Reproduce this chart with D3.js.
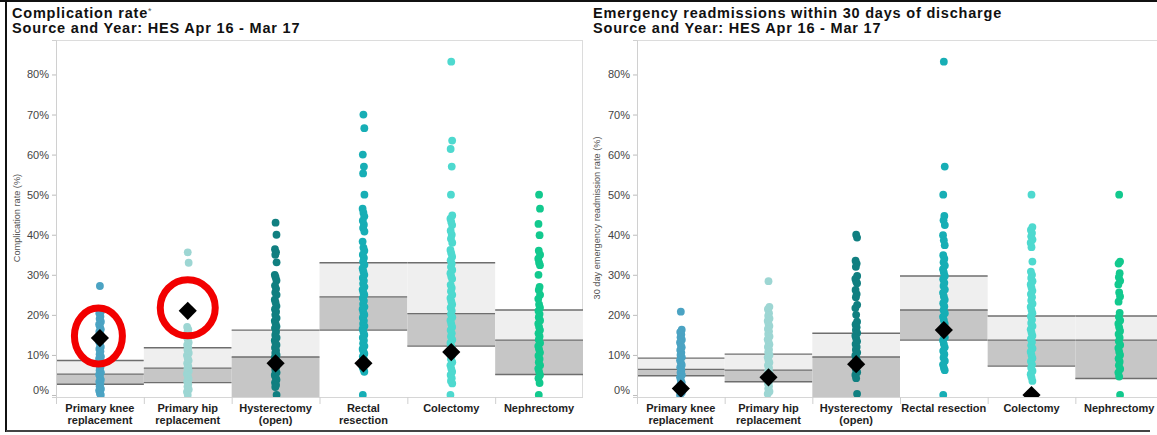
<!DOCTYPE html>
<html>
<head>
<meta charset="utf-8">
<script src="https://cdn.jsdelivr.net/npm/d3@7"></script>
<style>
  body { margin: 0; background: #fff; }
  svg { display: block; font-family: "Liberation Sans", Arial, sans-serif; }
</style>
</head>
<body>
<svg id="chart" width="1157" height="435"></svg>
<script>
// ---- Procedures and axis ticks ----
const procedures = ["Primary knee replacement", "Primary hip replacement", "Hysterectomy (open)",
                    "Rectal resection", "Colectomy", "Nephrectomy"];
const labelsLeft = [["Primary knee", "replacement"], ["Primary hip", "replacement"], ["Hysterectomy", "(open)"],
                    ["Rectal", "resection"], ["Colectomy"], ["Nephrectomy"]];
const labelsRight = [["Primary knee", "replacement"], ["Primary hip", "replacement"], ["Hysterectomy", "(open)"],
                     ["Rectal resection"], ["Colectomy"], ["Nephrectomy"]];
const yTicks = [0, 10, 20, 30, 40, 50, 60, 70, 80];
const dotColors = ["#4ba3c3", "#9dd6d3", "#107f80", "#17aeb5", "#4ed9cf", "#12c98e"];

// ---- Complication rate (%) by trust, per procedure ----
const complicationKnee = [27.2, 20.8, 20.4, 19.6, 19.0, 18.3, 17.6, 17.1, 16.4, 15.8, 15.2, 14.7, 13.9, 13.3, 12.8,
  12.0, 11.5, 10.9, 10.2, 9.6, 9.1, 8.3, 8.0, 7.4, 6.9, 6.2, 5.6, 5.1, 4.5, 3.8, 3.3, 2.9, 2.2, 1.5, 1.1, 0.4, 0];
const complicationHip = [35.6, 33.0, 17.0, 16.4, 15.7, 15.1, 14.4, 13.9, 13.1, 12.5, 11.8, 11.3, 10.5, 9.9, 9.2,
  8.6, 7.9, 7.2, 6.6, 6.0, 5.3, 4.8, 4.0, 3.4, 2.7, 2.1, 1.4, 0.8, 0];
const complicationHyst = [43.0, 40.0, 36.4, 35.6, 35.0, 33.1, 30.0, 29.4, 28.6, 27.3, 26.5, 25.6, 25.0, 23.8, 23.1,
  22.2, 21.4, 20.8, 20.0, 19.2, 18.5, 17.9, 17.1, 16.7, 15.8, 15.0, 14.3, 13.6, 12.9, 12.5, 11.8, 11.1, 10.5,
  10.0, 9.4, 8.7, 8.0, 7.4, 6.9, 6.3, 5.6, 5.0, 4.4, 3.8, 3.1, 2.5, 2.0, 0];
const complicationRectal = [70.0, 66.6, 60.0, 57.0, 55.3, 50.0, 46.5, 45.5, 44.6, 43.5, 42.5, 41.7, 40.8, 38.3,
  36.8, 36.0, 35.0, 34.2, 33.3, 32.5, 31.6, 30.8, 30.0, 29.2, 28.5, 27.8, 27.0, 26.3, 25.6, 25.0, 24.2, 23.5,
  22.7, 22.0, 21.4, 20.6, 20.0, 19.3, 18.5, 17.8, 17.2, 16.5, 15.8, 15.0, 14.3, 13.6, 12.9, 12.2, 11.5, 10.9,
  10.3, 9.6, 8.9, 8.3, 7.7, 7.0, 6.4, 5.8, 0];
const complicationColectomy = [83.2, 63.5, 61.4, 57.0, 50.0, 44.8, 44.0, 43.2, 42.4, 41.0, 40.0, 39.0, 38.0, 36.2,
  35.4, 34.5, 33.6, 32.8, 32.0, 31.2, 30.4, 29.6, 29.0, 27.5, 26.7, 25.9, 25.0, 24.2, 23.4, 22.6, 21.8, 21.0,
  20.2, 19.4, 18.6, 17.8, 17.0, 16.2, 15.4, 14.6, 13.8, 13.0, 12.2, 11.4, 10.6, 9.8, 9.0, 8.2, 7.4, 6.6, 5.8,
  5.0, 4.2, 3.5, 2.9, 0];
const complicationNephrectomy = [50.0, 46.5, 42.7, 39.9, 36.0, 35.0, 34.0, 33.0, 32.4, 30.0, 27.0, 26.2, 25.0, 24.0,
  22.6, 21.8, 21.0, 20.2, 19.4, 18.6, 17.8, 17.0, 16.2, 15.4, 14.6, 13.8, 13.0, 12.2, 11.4, 10.6, 9.8, 9.0, 8.2,
  7.4, 6.6, 5.8, 5.0, 4.2, 3.0, 0];

// National rate (diamond) and band limits for complications
const complicationNational = [14.2, 21.0, 7.9, 7.9, 10.7, null];
const complicationBandLow  = [2.7, 3.1, -2, 16.2, 12.2, 5.1];
const complicationBandMid  = [5.2, 6.7, 9.5, 24.5, 20.3, 13.7];
const complicationBandHigh = [8.6, 11.8, 16.2, 33.0, 33.0, 21.2];

// ---- 30 day emergency readmission rate (%) by trust, per procedure ----
const readmissionKnee = [20.8, 16.3, 15.7, 15.1, 14.4, 13.8, 13.1, 12.5, 11.9, 11.2, 10.6, 10.0, 9.4, 8.7, 8.1,
  7.5, 6.9, 6.2, 5.6, 5.0, 4.4, 3.7, 3.1, 2.5, 1.9, 1.2, 0.6, 0];
const readmissionHip = [28.4, 22.0, 21.4, 20.4, 19.8, 19.1, 18.5, 17.8, 17.2, 16.5, 15.9, 15.2, 14.6, 13.9, 13.3,
  12.6, 12.0, 11.3, 10.7, 10.0, 9.4, 8.7, 8.1, 7.4, 6.8, 6.1, 5.5, 4.8, 4.2, 3.5, 2.9, 2.2, 1.6, 0.9, 0.3];
const readmissionHyst = [40.0, 39.3, 33.5, 32.8, 32.0, 29.7, 29.0, 28.3, 27.9, 26.2, 25.2, 24.4, 22.5, 21.7, 20.0,
  18.3, 17.6, 16.9, 16.2, 15.5, 14.8, 14.1, 13.4, 12.7, 12.0, 11.3, 10.6, 9.9, 9.2, 8.5, 7.8, 7.1, 6.4, 5.7,
  5.0, 4.2, 0.3];
const readmissionRectal = [83.2, 57.0, 50.0, 44.7, 43.6, 42.4, 39.9, 38.6, 37.4, 34.9, 34.0, 33.1, 32.3, 31.4, 30.6,
  29.7, 28.9, 28.0, 27.2, 26.3, 25.5, 24.6, 23.8, 22.9, 22.1, 21.2, 20.4, 19.5, 18.7, 17.8, 17.0, 16.1, 15.3,
  14.4, 13.6, 12.7, 11.9, 11.0, 10.2, 9.3, 8.5, 7.6, 6.8, 6.2, 0];
const readmissionColectomy = [50.0, 41.9, 41.2, 40.4, 39.6, 38.8, 38.0, 36.9, 33.3, 30.8, 30.0, 29.2, 28.4, 27.6,
  26.8, 26.0, 25.2, 24.4, 23.6, 22.8, 22.0, 21.2, 20.4, 19.6, 18.8, 18.0, 17.2, 16.4, 15.6, 14.8, 14.0, 13.2,
  12.4, 11.6, 10.8, 10.0, 9.2, 8.4, 7.6, 6.8, 6.0, 5.2, 4.4, 3.5];
const readmissionNephrectomy = [50.0, 33.3, 32.8, 30.4, 29.4, 28.5, 27.6, 25.6, 24.6, 23.3, 20.5, 19.5, 18.6, 17.8,
  16.9, 16.0, 15.2, 14.3, 13.4, 12.5, 11.7, 10.8, 10.0, 9.1, 8.3, 7.4, 6.5, 5.6, 4.6, 0];

const readmissionNational = [1.6, 4.4, 7.7, 16.2, 0, null];
const readmissionBandLow  = [4.8, 3.3, -2, 13.7, 7.2, 4.1];
const readmissionBandMid  = [6.4, 6.2, 9.5, 21.2, 13.7, 13.7];
const readmissionBandHigh = [9.2, 10.2, 15.4, 29.7, 19.7, 19.7];

// Procedures ringed in red on the complication panel
const highlighted = ["Primary knee replacement", "Primary hip replacement"];

// ---------------------------------------------------------------
const svg = d3.select("#chart");

// outer frame
svg.append("line").attr("x1", 0).attr("x2", 1157).attr("y1", 1).attr("y2", 1)
  .attr("stroke", "#111").attr("stroke-width", 2);
svg.append("line").attr("x1", 6).attr("x2", 6).attr("y1", 0).attr("y2", 432)
  .attr("stroke", "#111").attr("stroke-width", 2);
svg.append("line").attr("x1", 6).attr("x2", 1150).attr("y1", 431).attr("y2", 431)
  .attr("stroke", "#444").attr("stroke-width", 2);

// slight sideways spread so dense columns read as a solid band of dots
const spread = i => [0, 0.9, -0.6, 0.5, -0.3, 1.0, -0.8][i % 7];

function drawPanel(cfg) {
  const g = svg.append("g");
  const x = d3.scaleBand().domain(procedures).range([cfg.x0, cfg.x1]).padding(0);
  const y = d3.scaleLinear().domain([-0.5, 88.6]).range([397, 40]);
  const top = 40, bottom = 397;

  // titles
  const titleStyle = sel => sel.attr("x", cfg.titleX).attr("font-size", 14.5).attr("font-weight", "bold")
    .attr("letter-spacing", 0.8).attr("fill", "#111");
  const t = g.append("text").attr("y", 18).call(titleStyle);
  t.append("tspan").text(cfg.title);
  if (cfg.titleMark) t.append("tspan").attr("font-size", 9).attr("font-weight", "normal")
    .attr("dy", -4).attr("fill", "#555").text(cfg.titleMark);
  g.append("text").attr("y", 33).call(titleStyle).text("Source and Year: HES Apr 16 - Mar 17");

  // clip to plot area
  const clipId = "clip-" + cfg.id;
  g.append("clipPath").attr("id", clipId).append("rect")
    .attr("x", cfg.x0).attr("y", top).attr("width", cfg.x1 - cfg.x0).attr("height", bottom - top + 1);
  const plot = g.append("g").attr("clip-path", `url(#${clipId})`);

  // plot box
  plot.append("rect").attr("x", cfg.x0 + 0.5).attr("y", top + 0.5)
    .attr("width", cfg.x1 - cfg.x0 - 1).attr("height", bottom - top)
    .attr("fill", "none").attr("stroke", "#dcdcdc");

  // bands: lower -> mid (dark), mid -> high (light)
  procedures.forEach((p, i) => {
    const bx = x(p), bw = x.bandwidth();
    plot.append("rect").attr("x", bx).attr("width", bw)
      .attr("y", y(cfg.high[i])).attr("height", y(cfg.mid[i]) - y(cfg.high[i]))
      .attr("fill", "#efefef");
    plot.append("rect").attr("x", bx).attr("width", bw)
      .attr("y", y(cfg.mid[i])).attr("height", y(cfg.low[i]) - y(cfg.mid[i]))
      .attr("fill", "#c6c6c6");
    [cfg.low[i], cfg.mid[i], cfg.high[i]].forEach(v => {
      plot.append("line").attr("x1", bx).attr("x2", bx + bw)
        .attr("y1", y(v)).attr("y2", y(v))
        .attr("stroke", "#6e6e6e").attr("stroke-width", 1.4);
    });
  });

  // trust dots
  procedures.forEach((p, i) => {
    plot.append("g").selectAll("circle").data(cfg.values[i]).join("circle")
      .attr("cx", (d, k) => x(p) + x.bandwidth() / 2 + spread(k))
      .attr("cy", d => y(d))
      .attr("r", 3.9)
      .attr("fill", dotColors[i]);
  });

  // national rate diamonds
  procedures.forEach((p, i) => {
    const v = cfg.national[i];
    if (v == null) return;
    plot.append("path")
      .attr("d", d3.symbol(d3.symbolSquare, 165)())
      .attr("transform", `translate(${x(p) + x.bandwidth() / 2},${y(v)}) rotate(45)`)
      .attr("fill", "#000");
  });

  // highlight rings
  if (cfg.rings) {
    procedures.forEach((p, i) => {
      if (!highlighted.includes(p) || cfg.national[i] == null) return;
      const ring = cfg.rings[p];
      g.append("ellipse")
        .attr("cx", x(p) + x.bandwidth() / 2 + ring.dx)
        .attr("cy", y(cfg.national[i]) + ring.dy)
        .attr("rx", ring.rx).attr("ry", ring.ry)
        .attr("fill", "none").attr("stroke", "#f20000").attr("stroke-width", 7);
    });
  }

  // y axis
  const yAxis = g.append("g").attr("transform", `translate(${cfg.x0},0)`)
    .call(d3.axisLeft(y).tickValues(yTicks).tickFormat(d => d + "%").tickSize(4).tickPadding(3));
  yAxis.select(".domain").attr("stroke", "#d0d0d0");
  yAxis.selectAll(".tick line").attr("stroke", "#bdbdbd");
  yAxis.selectAll(".tick text").attr("font-size", 11).attr("fill", "#444")
    .attr("font-family", "Liberation Sans, Arial, sans-serif");
  yAxis.selectAll(".tick").filter(d => d === 0).select("text").attr("dy", "-0.12em");

  // y axis title
  g.append("text")
    .attr("transform", `translate(${cfg.yTitleX},218) rotate(-90)`)
    .attr("text-anchor", "middle").attr("font-size", 9.2).attr("fill", "#555")
    .text(cfg.yTitle);

  // category separators and labels
  g.append("line").attr("x1", cfg.x0).attr("x2", cfg.x1).attr("y1", bottom + 0.5).attr("y2", bottom + 0.5)
    .attr("stroke", "#d6d6d6");
  procedures.forEach((p, i) => {
    g.append("line").attr("x1", x(p) + 0.5).attr("x2", x(p) + 0.5).attr("y1", bottom).attr("y2", 404)
      .attr("stroke", "#cfcfcf");
    const lbl = g.append("text").attr("text-anchor", "middle")
      .attr("font-size", 11).attr("font-weight", "bold").attr("fill", "#1e1e1e");
    cfg.labels[i].forEach((line, k) => {
      lbl.append("tspan").attr("x", x(p) + x.bandwidth() / 2).attr("y", 411.5 + k * 12.5).text(line);
    });
  });
}

drawPanel({
  id: "comp", x0: 56, x1: 583, titleX: 12,
  title: "Complication rate", titleMark: "*",
  yTitle: "Complication rate (%)", yTitleX: 20,
  values: [complicationKnee, complicationHip, complicationHyst, complicationRectal,
           complicationColectomy, complicationNephrectomy],
  national: complicationNational,
  low: complicationBandLow, mid: complicationBandMid, high: complicationBandHigh,
  labels: labelsLeft,
  rings: {
    "Primary knee replacement": { dx: -1.5, dy: -2, rx: 24, ry: 28 },
    "Primary hip replacement": { dx: 0, dy: -3, rx: 27.5, ry: 28 }
  }
});

drawPanel({
  id: "readm", x0: 637, x1: 1163, titleX: 593,
  title: "Emergency readmissions within 30 days of discharge",
  yTitle: "30 day emergency readmission rate (%)", yTitleX: 600,
  values: [readmissionKnee, readmissionHip, readmissionHyst, readmissionRectal,
           readmissionColectomy, readmissionNephrectomy],
  national: readmissionNational,
  low: readmissionBandLow, mid: readmissionBandMid, high: readmissionBandHigh,
  labels: labelsRight
});
</script>
</body>
</html>
